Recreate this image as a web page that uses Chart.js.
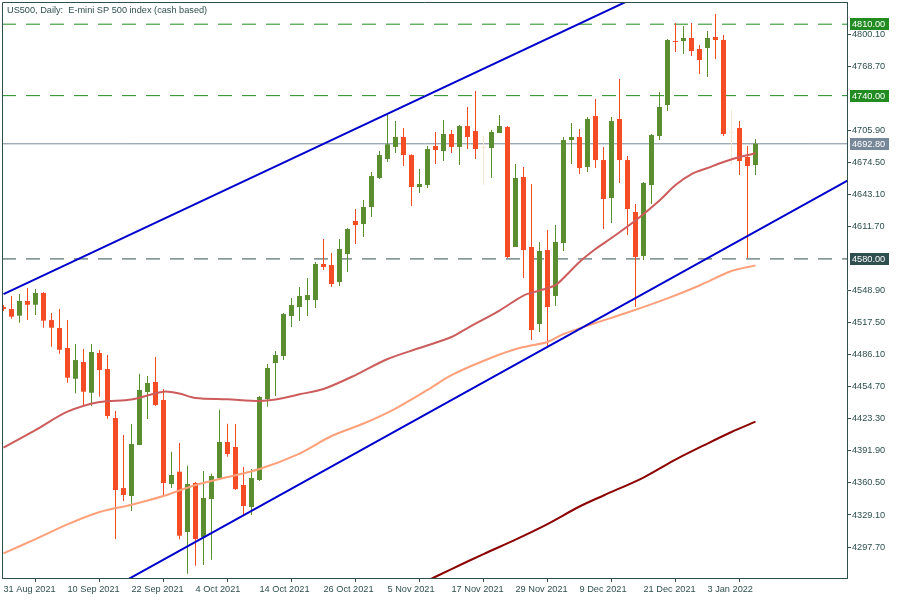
<!DOCTYPE html>
<html>
<head>
<meta charset="utf-8">
<title>US500, Daily</title>
<script src="https://cdn.jsdelivr.net/npm/chart.js@4.4.0/dist/chart.umd.min.js"></script>
<style>
  html, body { margin: 0; padding: 0; background: #fff; }
  #wrap { width: 900px; height: 600px; position: relative; }
</style>
</head>
<body>
<div id="wrap"><canvas id="chart" width="900" height="600"></canvas></div>
<script>
// --- data ---
const titleText = 'US500, Daily:  E-mini SP 500 index (cash based)';

const dateLabels = ['31 Aug 2021', '10 Sep 2021', '22 Sep 2021', '4 Oct 2021', '14 Oct 2021', '26 Oct 2021',
  '5 Nov 2021', '17 Nov 2021', '29 Nov 2021', '9 Dec 2021', '21 Dec 2021', '3 Jan 2022'];
const dateTickBars = [0, 8, 16, 24, 32, 40, 48, 56, 64, 72, 80, 88];

const openV = [4532.9, 4530.9, 4524.4, 4538.8, 4535.1, 4546.6, 4520.1, 4512.3, 4492.7, 4462.6,
  4479.0, 4448.9, 4487.8, 4472.1, 4424.1, 4355.5, 4347.7, 4397.7, 4449.6, 4459.4,
  4441.8, 4359.4, 4371.5, 4312.4, 4360.4, 4307.2, 4344.7, 4365.3, 4400.6, 4395.7,
  4358.5, 4336.9, 4363.4, 4442.7, 4478.0, 4484.9, 4524.1, 4532.9, 4539.7, 4539.7,
  4575.0, 4574.0, 4557.4, 4584.8, 4617.2, 4614.2, 4630.9, 4659.3, 4677.9, 4689.7,
  4699.5, 4681.8, 4650.5, 4652.4, 4690.6, 4685.7, 4702.4, 4689.7, 4710.2, 4705.3,
  4688.7, 4688.7, 4703.4, 4709.3, 4591.7, 4660.3, 4591.7, 4516.2, 4588.7, 4543.7,
  4595.6, 4696.5, 4699.5, 4670.1, 4720.0, 4676.9, 4639.7, 4717.1, 4676.9, 4626.0,
  4582.9, 4652.4, 4700.4, 4730.8, 4793.5, 4793.5, 4796.5, 4785.7, 4786.7, 4797.5,
  4794.5, 4703.7, 4708.3, 4679.9, 4672.0];
const highV = [4534.8, 4543.7, 4545.6, 4551.5, 4550.5, 4547.6, 4527.0, 4530.9, 4520.1, 4496.6,
  4491.7, 4496.6, 4490.7, 4485.8, 4431.0, 4407.5, 4418.2, 4467.5, 4465.3, 4483.9,
  4452.5, 4391.1, 4399.6, 4377.4, 4361.4, 4372.2, 4369.5, 4432.2, 4418.5, 4418.2,
  4376.1, 4374.1, 4445.7, 4477.0, 4489.8, 4527.0, 4541.7, 4552.5, 4561.3, 4577.0,
  4599.5, 4585.8, 4599.5, 4610.3, 4628.9, 4637.7, 4665.2, 4685.7, 4721.0, 4715.1,
  4708.3, 4682.5, 4668.1, 4690.6, 4704.4, 4716.1, 4706.3, 4711.2, 4728.9, 4744.5,
  4700.4, 4706.3, 4721.0, 4710.2, 4673.0, 4670.1, 4653.4, 4596.6, 4608.3, 4613.2,
  4699.5, 4713.2, 4707.3, 4719.1, 4736.7, 4689.7, 4719.1, 4756.3, 4680.8, 4633.8,
  4655.4, 4702.4, 4743.6, 4795.5, 4811.2, 4808.2, 4811.2, 4789.6, 4803.3, 4820.0,
  4799.4, 4725.9, 4715.1, 4690.6, 4697.5];
const lowV = [4529.0, 4521.4, 4517.5, 4520.1, 4525.0, 4512.6, 4494.0, 4487.1, 4458.7, 4448.3,
  4436.9, 4435.9, 4445.0, 4423.4, 4305.5, 4342.8, 4333.0, 4397.7, 4423.1, 4435.9,
  4346.7, 4355.5, 4305.2, 4271.5, 4279.4, 4280.1, 4285.3, 4364.3, 4386.2, 4353.5,
  4329.1, 4329.1, 4362.4, 4435.2, 4445.7, 4480.9, 4513.3, 4519.2, 4524.1, 4531.9,
  4569.1, 4552.5, 4553.5, 4567.2, 4594.6, 4601.5, 4621.1, 4658.3, 4675.0, 4683.8,
  4671.0, 4631.9, 4644.6, 4649.5, 4673.0, 4675.9, 4683.8, 4672.0, 4687.7, 4677.9,
  4652.4, 4659.3, 4703.4, 4580.9, 4591.7, 4561.3, 4500.5, 4508.4, 4494.7, 4533.9,
  4587.8, 4673.0, 4663.2, 4665.2, 4669.1, 4609.3, 4615.2, 4654.4, 4603.4, 4532.9,
  4578.9, 4633.8, 4696.5, 4724.9, 4782.8, 4780.8, 4778.8, 4761.2, 4758.3, 4775.9,
  4700.4, 4672.0, 4662.2, 4580.9, 4662.2];
const closeV = [4530.9, 4523.4, 4538.8, 4535.1, 4546.6, 4519.5, 4512.6, 4491.0, 4463.6, 4480.9,
  4449.9, 4488.8, 4471.1, 4426.1, 4353.6, 4348.7, 4398.6, 4451.6, 4458.4, 4436.9,
  4360.4, 4368.3, 4308.8, 4359.4, 4305.5, 4345.7, 4367.3, 4400.6, 4388.8, 4354.5,
  4337.9, 4365.3, 4444.7, 4473.1, 4485.8, 4526.0, 4534.8, 4543.7, 4544.6, 4575.0,
  4572.1, 4555.4, 4589.7, 4609.3, 4613.2, 4630.9, 4661.2, 4681.8, 4692.3, 4699.5,
  4681.8, 4650.5, 4653.4, 4687.7, 4686.7, 4702.4, 4689.7, 4710.2, 4699.5, 4687.7,
  4688.7, 4704.4, 4710.2, 4581.9, 4659.3, 4588.7, 4510.3, 4587.8, 4532.9, 4596.6,
  4696.5, 4699.5, 4669.1, 4717.1, 4676.9, 4638.7, 4715.1, 4676.9, 4628.9, 4581.9,
  4654.4, 4701.4, 4728.9, 4794.5, 4792.6, 4796.5, 4783.7, 4774.9, 4796.5, 4794.5,
  4702.4, 4703.7, 4675.9, 4671.0, 4692.8];

// moving averages (bar index -> value)
const maRedBars = [0, 4, 8, 12, 16, 20, 22, 24, 28, 32, 34, 37, 40, 44, 48, 52, 56, 58, 62, 65,
  67, 69, 70, 72, 74, 76, 79, 82, 84, 86, 88, 90, 92, 94];
const maRedVals = [4395.0, 4412.3, 4430.3, 4439.8, 4442.2, 4449.9, 4448.1, 4443.7, 4442.4, 4440.8,
  4442.2, 4447.3, 4452.5, 4466.2, 4481.9, 4492.7, 4503.5, 4512.3, 4529.4, 4544.1,
  4549.0, 4554.4, 4561.3, 4577.0, 4589.7, 4600.5, 4617.6, 4637.2, 4652.4, 4663.2,
  4669.1, 4675.0, 4679.9, 4683.5];
const maSalmonBars = [0, 4, 8, 12, 16, 20, 24, 28, 32, 37, 41, 45, 49, 53, 56, 62, 65, 68, 70, 74,
  78, 83, 87, 91, 94];
const maSalmonVals = [4291.5, 4305.5, 4319.9, 4332.0, 4339.2, 4347.7, 4358.5, 4366.3, 4374.1, 4389.3,
  4406.5, 4418.7, 4433.4, 4451.6, 4466.2, 4486.3, 4493.7, 4498.6, 4506.4, 4517.2,
  4527.5, 4541.4, 4554.0, 4568.2, 4573.7];
const maDarkBars = [52, 56, 60, 64, 68, 72, 75, 80, 84, 88, 91, 94];
const maDarkVals = [4261.0, 4276.1, 4290.8, 4305.0, 4320.2, 4337.4, 4348.2, 4365.8, 4383.4, 4399.1,
  4410.4, 4420.5];

// trend channel lines (two anchor points each)
const chanUpBars = [0, 100];
const chanUpVals = [4545.5, 4913.6];
const chanLowBars = [10, 106];
const chanLowVals = [4241.9, 4658.9];

// horizontal levels
const levelVals = [4810, 4740, 4580];
const lastPrice = 4692.8;

const yTickVals = [4800.1, 4768.7, 4705.9, 4674.5, 4643.1, 4611.7, 4548.9, 4517.5, 4486.1,
  4454.7, 4423.3, 4391.9, 4360.5, 4329.1, 4297.7];

// --- styling ---
const axisColor = '#2f4f4f';
const upColor = '#5a8e30';
const downColor = '#f44d25';
const dojiColor = '#f6e6d4';
const levelColors = ['#228b22', '#228b22', '#2f4f4f'];
const lastColor = '#778899';
const FONT = { family: '"Liberation Sans", Arial, sans-serif', size: 9.2 };

const X_MIN = -0.1875, X_MAX = 105.4375;
const Y_MIN = 4267.35, Y_MAX = 4831.75;

const candleColor = openV.map((o, i) => closeV[i] > o ? upColor : (closeV[i] < o ? downColor : dojiColor));
const bodies = openV.map((o, i) => ({ x: i, y: [o, closeV[i]] }));
const wicks = openV.map((o, i) => ({ x: i, y: [lowV[i], highV[i]] }));
const pts = (bars, vals) => bars.map((b, i) => ({ x: b, y: vals[i] }));
const hLine = v => [{ x: X_MIN, y: v }, { x: X_MAX, y: v }];

function lineDs(data, color, width, extra) {
  return Object.assign({
    type: 'line', data, borderColor: color, borderWidth: width,
    pointRadius: 0, fill: false, tension: 0
  }, extra || {});
}

const overlayPlugin = {
  id: 'overlay',
  afterDraw(chart) {
    const { ctx, chartArea: a, scales } = chart;
    ctx.save();
    // left and top frame
    ctx.strokeStyle = axisColor;
    ctx.lineWidth = 1;
    ctx.beginPath();
    ctx.moveTo(a.left + 0.5, a.bottom);
    ctx.lineTo(a.left + 0.5, a.top + 0.5);
    ctx.lineTo(a.right, a.top + 0.5);
    ctx.stroke();

    // title
    ctx.font = `${FONT.size}px ${FONT.family}`;
    ctx.fillStyle = axisColor;
    ctx.textBaseline = 'middle';
    ctx.textAlign = 'left';
    ctx.fillText(titleText, 7, 10);

    // price labels on the right axis
    const labels = levelVals.map((v, i) => ({ v, c: levelColors[i] }));
    labels.push({ v: lastPrice, c: lastColor });
    labels.forEach(l => {
      const y = Math.round(scales.y.getPixelForValue(l.v));
      ctx.fillStyle = l.c;
      ctx.fillRect(850, y - 6, 39, 12);
      ctx.fillStyle = '#ffffff';
      ctx.fillText(l.v.toFixed(2), 852, y + 0.5);
    });
    ctx.restore();
  }
};

new Chart(document.getElementById('chart'), {
  type: 'bar',
  data: {
    datasets: [
      lineDs(pts(chanUpBars, chanUpVals), '#0000cd', 2),
      lineDs(pts(chanLowBars, chanLowVals), '#0000cd', 2),
      lineDs(pts(maDarkBars, maDarkVals), '#8b0000', 2, { tension: 0.3 }),
      lineDs(pts(maSalmonBars, maSalmonVals), '#ffa07a', 2, { tension: 0.3 }),
      lineDs(pts(maRedBars, maRedVals), '#cd5c5c', 2, { tension: 0.3 }),
      {
        type: 'bar', data: bodies, backgroundColor: candleColor, barThickness: 5,
        grouped: false, borderWidth: 0, inflateAmount: 0, minBarLength: 1
      },
      {
        type: 'bar', data: wicks, backgroundColor: candleColor, barThickness: 1,
        grouped: false, borderWidth: 0, inflateAmount: 0
      },
      lineDs(hLine(lastPrice), lastColor, 1),
      lineDs(hLine(levelVals[0]), levelColors[0], 1, { borderDash: [14, 10] }),
      lineDs(hLine(levelVals[1]), levelColors[1], 1, { borderDash: [14, 10] }),
      lineDs(hLine(levelVals[2]), levelColors[2], 1, { borderDash: [14, 10] })
    ]
  },
  options: {
    responsive: false,
    devicePixelRatio: 1,
    animation: false,
    layout: { padding: { left: 2, top: 2, right: 0, bottom: 0 } },
    plugins: { legend: { display: false }, tooltip: { enabled: false } },
    scales: {
      x: {
        type: 'linear', position: 'bottom', min: X_MIN, max: X_MAX, offset: false, bounds: 'data',
        afterBuildTicks: s => { s.ticks = dateTickBars.map(v => ({ value: v })); },
        afterFit: s => { s.height = 22; s.paddingLeft = 0; s.paddingRight = 0; },
        ticks: {
          autoSkip: false, maxRotation: 0, align: 'start', padding: 2,
          color: axisColor, font: FONT,
          callback: v => dateLabels[dateTickBars.indexOf(v)]
        },
        grid: { drawOnChartArea: false, drawTicks: true, tickLength: 4, color: axisColor },
        border: { display: true, color: axisColor }
      },
      y: {
        type: 'linear', position: 'right', min: Y_MIN, max: Y_MAX, bounds: 'data',
        afterBuildTicks: s => { s.ticks = yTickVals.map(v => ({ value: v })); },
        afterFit: s => { s.width = 53; s.paddingTop = 0; s.paddingBottom = 0; },
        ticks: {
          padding: 1, color: axisColor, font: FONT,
          callback: v => Number(v).toFixed(2)
        },
        grid: { drawOnChartArea: false, drawTicks: true, tickLength: 4, color: axisColor },
        border: { display: true, color: axisColor }
      }
    }
  },
  plugins: [overlayPlugin]
});
</script>
</body>
</html>
